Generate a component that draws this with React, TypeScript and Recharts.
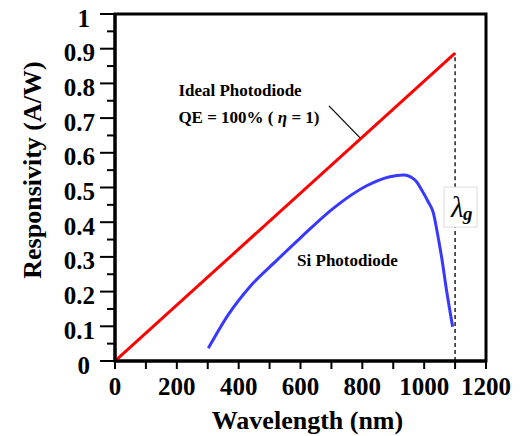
import React from 'react';
import {
  LineChart,
  Line,
  XAxis,
  YAxis,
  ReferenceLine,
  ReferenceArea,
  ReferenceDot,
} from 'recharts';

const idealWavelength = [0, 1100];
const idealResponsivity = [0, 0.887];

const siWavelength = [302, 366, 437, 523, 600, 706, 814, 889, 933, 970, 992, 1013, 1030, 1040, 1057, 1073, 1092];
const siResponsivity = [0.037, 0.133, 0.215, 0.29, 0.355, 0.44, 0.505, 0.531, 0.536, 0.522, 0.493, 0.459, 0.426, 0.382, 0.296, 0.2, 0.099];

const xTicks = [0, 100, 200, 300, 400, 500, 600, 700, 800, 900, 1000, 1100, 1200];
const xLabeled = [0, 200, 400, 600, 800, 1000, 1200];
const yTicks = [0, 0.05, 0.1, 0.15, 0.2, 0.25, 0.3, 0.35, 0.4, 0.45, 0.5, 0.55, 0.6, 0.65, 0.7, 0.75, 0.8, 0.85, 0.9, 0.95, 1];
const yLabeled = [0, 0.1, 0.2, 0.3, 0.4, 0.5, 0.6, 0.7, 0.8, 0.9, 1];

const bandgapWavelength = 1100;

const idealData = idealWavelength.map((x, i) => ({ x, y: idealResponsivity[i] }));
const siData = siWavelength.map((x, i) => ({ x, y: siResponsivity[i] }));

const FONT = '"Liberation Serif", "Times New Roman", serif';

const YTick = (props: any) => {
  const { x, y, payload } = props;
  const v = payload.value;
  const major = yLabeled.some((t) => Math.abs(t - v) < 1e-6);
  if (!major) {
    return <line x1={x - 8} x2={x} y1={y} y2={y} stroke="#000" strokeWidth={2} />;
  }
  const label = String(Math.round(v * 10) / 10);
  const isInt = label.indexOf('.') < 0;
  return (
    <g>
      <line x1={x - 15} x2={x} y1={y} y2={y} stroke="#000" strokeWidth={2} />
      <text
        x={x - 20 - (isInt ? 5 : 0)}
        y={y + 12.5}
        textAnchor="end"
        fontFamily={FONT}
        fontWeight="bold"
        fontSize={25}
        fill="#000"
      >
        {label}
      </text>
    </g>
  );
};

const XTick = (props: any) => {
  const { x, y, payload } = props;
  const v = payload.value;
  const major = xLabeled.indexOf(v) >= 0;
  return (
    <g>
      <line x1={x} x2={x} y1={y} y2={y + 8} stroke="#000" strokeWidth={2} />
      {major && (
        <text
          x={x}
          y={y + 34}
          textAnchor="middle"
          fontFamily={FONT}
          fontWeight="bold"
          fontSize={25}
          fill="#000"
        >
          {v}
        </text>
      )}
    </g>
  );
};

function XTitle(props: any) {
  const vb = props.viewBox;
  return (
    <text
      x={vb.x + vb.width / 2 + 7}
      y={vb.y + 68}
      textAnchor="middle"
      fontFamily={FONT}
      fontWeight="bold"
      fontSize={26}
      fill="#000"
    >
      Wavelength (nm)
    </text>
  );
}

function YTitle(props: any) {
  const vb = props.viewBox;
  const cx = vb.x + 41;
  const cy = vb.y + vb.height / 2 - 17.5;
  return (
    <text
      x={cx}
      y={cy}
      transform={`rotate(-90, ${cx}, ${cy})`}
      textAnchor="middle"
      fontFamily={FONT}
      fontWeight="bold"
      fontSize={26}
      fill="#000"
    >
      Responsivity (A/W)
    </text>
  );
}

const textShape = (content: React.ReactNode, size = 17) => (props: any) => (
  <text
    x={props.cx}
    y={props.cy}
    textAnchor="start"
    fontFamily={FONT}
    fontWeight="bold"
    fontSize={size}
    fill="#000"
  >
    {content}
  </text>
);

const LambdaShape = (props: any) => {
  const { cx, cy } = props;
  return (
    <g>
      <rect x={cx - 11} y={cy - 20} width={33} height={40} fill="#fff" stroke="#dcdcdc" strokeWidth={1} />
      <text x={cx - 4} y={cy + 10} fontFamily={FONT} fontStyle="italic" fontSize={29} fill="#000">
        λ
      </text>
      <text x={cx + 8} y={cy + 13} fontFamily={FONT} fontStyle="italic" fontWeight="bold" fontSize={19} fill="#000">
        g
      </text>
    </g>
  );
};

export default function App() {
  return (
    <div style={{ position: 'absolute', left: 0, top: 0, width: 522, height: 436, background: '#fff' }}>
      <LineChart width={522} height={436} margin={{ top: 14, right: 36, bottom: 0, left: 0 }}>
        <XAxis
          type="number"
          dataKey="x"
          domain={[0, 1200]}
          ticks={xTicks}
          interval={0}
          tickLine={false}
          tickSize={0}
          tickMargin={0}
          tick={<XTick />}
          axisLine={{ stroke: '#000', strokeWidth: 3 }}
          height={75}
          allowDataOverflow
          label={<XTitle />}
        />
        <YAxis
          type="number"
          dataKey="y"
          domain={[0, 1]}
          ticks={yTicks}
          interval={0}
          tickLine={false}
          tickSize={0}
          tickMargin={0}
          tick={<YTick />}
          axisLine={{ stroke: '#000', strokeWidth: 3 }}
          width={115}
          allowDataOverflow
          label={<YTitle />}
        />
        <ReferenceArea x1={0} x2={1200} y1={0} y2={1} fill="none" fillOpacity={0} stroke="#000" strokeWidth={3} />
        <ReferenceLine
          segment={[{ x: bandgapWavelength, y: 0 }, { x: bandgapWavelength, y: 0.386 }]}
          stroke="#000"
          strokeWidth={1.3}
          strokeDasharray="4 3"
        />
        <ReferenceLine
          segment={[{ x: bandgapWavelength, y: 0.501 }, { x: bandgapWavelength, y: 0.887 }]}
          stroke="#000"
          strokeWidth={1.3}
          strokeDasharray="4 3"
        />
        <ReferenceLine
          segment={[{ x: 692, y: 0.735 }, { x: 795, y: 0.641 }]}
          stroke="#000"
          strokeWidth={1.2}
        />
        <Line
          data={idealData}
          dataKey="y"
          type="linear"
          stroke="#ff0000"
          strokeWidth={3}
          dot={false}
          isAnimationActive={false}
        />
        <Line
          data={siData}
          dataKey="y"
          type="monotone"
          stroke="#3838ff"
          strokeWidth={3}
          dot={false}
          isAnimationActive={false}
        />
        <ReferenceDot x={205} y={0.764} r={0} shape={textShape('Ideal Photodiode')} />
        <ReferenceDot
          x={205}
          y={0.686}
          r={0}
          shape={textShape(
            <>
              QE = 100% ( <tspan fontStyle="italic">η</tspan> = 1)
            </>
          )}
        />
        <ReferenceDot x={589} y={0.274} r={0} shape={textShape('Si Photodiode')} />
        <ReferenceDot x={bandgapWavelength} y={0.4435} r={0} shape={<LambdaShape />} />
      </LineChart>
    </div>
  );
}
